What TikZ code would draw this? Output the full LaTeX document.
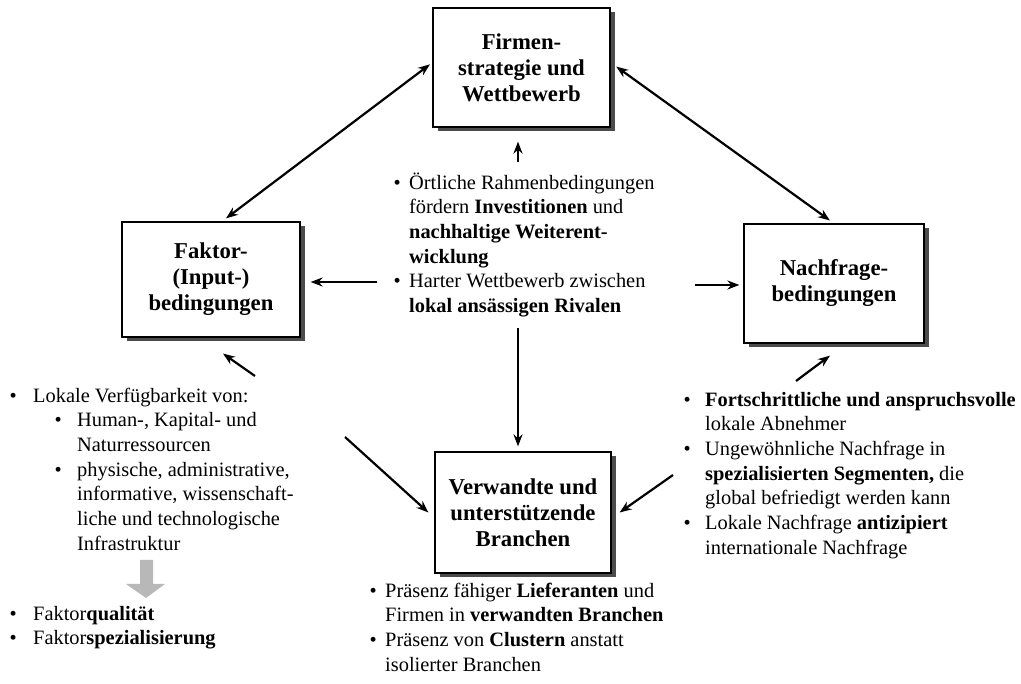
\documentclass[tikz,border=0pt]{standalone}
\usepackage{fontspec}
\setmainfont{Liberation Serif}
\usetikzlibrary{positioning, calc, shadows, arrows.meta}
\tikzset{
  dia box/.style={draw, rectangle, fill=white, line width=1.2pt, align=center, inner sep=0,
    font=\fontsize{22.7}{26}\selectfont\bfseries,
    drop shadow={shadow xshift=5pt, shadow yshift=-4pt, fill=black!70, opacity=1}},
  dia arrow/.style={line width=2.2pt, -{Stealth[length=12pt,width=9pt]}},
  dia arrow both/.style={line width=2.2pt, {Stealth[length=12pt,width=9pt]}-{Stealth[length=12pt,width=9pt]}},
  dia hint/.style={fill=black!28, draw=none},
  lbl/.style={align=left, inner sep=0, anchor=north west, font=\fontsize{20.4}{24.7}\selectfont}
}
\newcommand{\bul}[1][8.5pt]{\llap{\textbullet\hspace{#1}}}

\begin{document}
\begin{tikzpicture}[x=1pt, y=-1pt]
\useasboundingbox (0,0) rectangle (1021,684);

% the four boxes
\node[dia box, minimum width=177pt, minimum height=119pt] (firmen) at (521.5,67.5) {Firmen-\\strategie und\\Wettbewerb};
\node[dia box, minimum width=178pt, minimum height=115pt] (faktor) at (211,279.5) {Faktor-\\(Input-)\\bedingungen};
\node[dia box, minimum width=180pt, minimum height=119pt] (nachfrage) at (834,283.5) {Nachfrage-\\bedingungen};
\node[dia box, minimum width=176pt, minimum height=121pt] (branchen) at (523,512.5) {Verwandte und\\unterstützende\\Branchen};

% texts
\node[lbl] (umfeld) at (409,171.7) {\strut\bul Örtliche Rahmenbedingungen\\
  fördern \textbf{Investitionen} und\\
  \textbf{nachhaltige Weiterent-}\\
  \textbf{wicklung}\\
  \bul Harter Wettbewerb zwischen\\
  \textbf{lokal ansässigen Rivalen}};
\node[lbl] (faktoren) at (33,384.7) {\strut\bul[16.5pt]Lokale Verfügbarkeit von:\\
  \hspace*{44pt}\bul[15.5pt]Human-, Kapital- und\\
  \hspace*{44pt}Naturressourcen\\
  \hspace*{44pt}\bul[15.5pt]physische, administrative,\\
  \hspace*{44pt}informative, wissenschaft-\\
  \hspace*{44pt}liche und technologische\\
  \hspace*{44pt}Infrastruktur};
\node[lbl] (qualitaet) at (33,602.7) {\strut\bul[16.5pt]Faktor\textbf{qualität}\\
  \bul[16.5pt]Faktor\textbf{spezialisierung}};
\node[lbl] (abnehmer) at (705,388.7) {\strut\bul[14.5pt]\textbf{Fortschrittliche und anspruchsvolle}\\
  lokale Abnehmer\\
  \bul[14.5pt]Ungewöhnliche Nachfrage in\\
  \textbf{spezialisierten Segmenten,} die\\
  global befriedigt werden kann\\
  \bul[14.5pt]Lokale Nachfrage \textbf{antizipiert}\\
  internationale Nachfrage};
\node[lbl] (lieferanten) at (385,579.7) {\strut\bul Präsenz fähiger \textbf{Lieferanten} und\\
  Firmen in \textbf{verwandten Branchen}\\
  \bul Präsenz von \textbf{Clustern} anstatt\\
  isolierter Branchen};

% gray arrow
\fill[dia hint] (140,560) -- (153,560) -- (153,584) -- (165,584) -- (146,598) -- (126,584) -- (140,584) -- cycle;

% connectors
\coordinate (up_tail) at (518,162);
\coordinate (links_tail) at (377,282);
\coordinate (rechts_tail) at (695,285);
\coordinate (unten_tail) at (518,328);
\coordinate (fk_tail) at (255,376);
\coordinate (nf_tail) at (796,381);
\coordinate (fk_diag) at (345,437);
\coordinate (nf_diag) at (673,475);

\draw[dia arrow both, shorten <=3pt, shorten >=5pt] ([yshift=5pt]firmen.west) -- ([xshift=11pt]faktor.north);
\draw[dia arrow both, shorten <=7pt, shorten >=5pt] ([yshift=5pt]firmen.east) -- (nachfrage.north);
\draw[dia arrow, shorten >=14pt] (up_tail) -- (up_tail |- firmen.south);
\draw[dia arrow, shorten >=10pt] (links_tail) -- (links_tail -| faktor.east);
\draw[dia arrow, shorten >=4pt] (rechts_tail) -- (rechts_tail -| nachfrage.west);
\draw[dia arrow, shorten >=5pt] (unten_tail) -- (unten_tail |- branchen.north);
\draw[dia arrow] (fk_tail) -- ([shift={(12,16)}]faktor.south);
\draw[dia arrow] (nf_tail) -- ([shift={(-4,12)}]nachfrage.south);
\draw[dia arrow] (fk_diag) -- ([xshift=-6pt]branchen.west);
\draw[dia arrow] (nf_diag) -- ([xshift=8pt]branchen.east);

\end{tikzpicture}
\end{document}
